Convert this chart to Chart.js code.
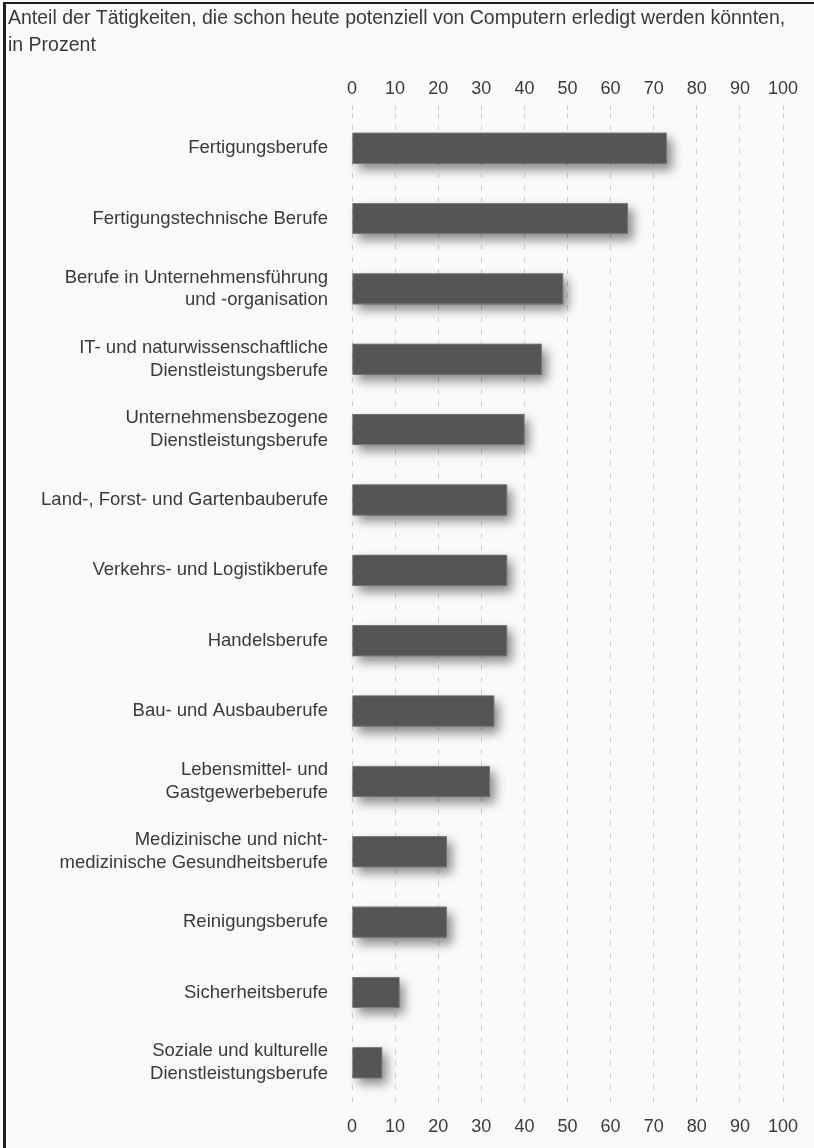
<!DOCTYPE html>
<html>
<head>
<meta charset="utf-8">
<script src="https://cdn.jsdelivr.net/npm/chart.js@4"></script>
<style>
  html, body { margin: 0; padding: 0; background: #fafafa; }
  canvas { display: block; }
</style>
</head>
<body>
<canvas id="chart" width="814" height="1148"></canvas>
<script>
// Anteil der Tätigkeiten mit Automatisierungspotenzial, nach Berufsgruppe
const titleLines = [
  'Anteil der Tätigkeiten, die schon heute potenziell von Computern erledigt werden könnten,',
  'in Prozent'
];
const categories = [
  'Fertigungsberufe',
  'Fertigungstechnische Berufe',
  ['Berufe in Unternehmensführung', 'und -organisation'],
  ['IT- und naturwissenschaftliche', 'Dienstleistungsberufe'],
  ['Unternehmensbezogene', 'Dienstleistungsberufe'],
  'Land-, Forst- und Gartenbauberufe',
  'Verkehrs- und Logistikberufe',
  'Handelsberufe',
  'Bau- und Ausbauberufe',
  ['Lebensmittel- und', 'Gastgewerbeberufe'],
  ['Medizinische und nicht-', 'medizinische Gesundheitsberufe'],
  'Reinigungsberufe',
  'Sicherheitsberufe',
  ['Soziale und kulturelle', 'Dienstleistungsberufe']
];
const shares = [73, 64, 49, 44, 40, 36, 36, 36, 33, 32, 22, 22, 11, 7];
const axisMin = 0;
const axisMax = 100;
const axisStep = 10;

const FONT = "'Liberation Sans', Arial, sans-serif";
const TEXT = '#3a3a3a';

// background, frame, title and bar shadow
const decor = {
  id: 'decor',
  beforeDraw(chart) {
    const ctx = chart.ctx;
    ctx.save();
    ctx.fillStyle = '#fafafa';
    ctx.fillRect(0, 0, chart.width, chart.height);
    ctx.restore();
  },
  beforeDatasetsDraw(chart) {
    // soft drop shadow under each bar, taken from the bar elements
    const ctx = chart.ctx;
    const bars = chart.getDatasetMeta(0).data;
    ctx.save();
    ctx.shadowColor = 'rgba(0,0,0,0.45)';
    ctx.shadowBlur = 10;
    ctx.shadowOffsetX = 5;
    ctx.shadowOffsetY = 6;
    ctx.fillStyle = '#555555';
    bars.forEach(b => {
      const p = b.getProps(['x', 'y', 'base', 'height'], true);
      ctx.fillRect(p.base, p.y - p.height / 2, p.x - p.base, p.height);
    });
    ctx.restore();
  },
  afterDraw(chart) {
    const ctx = chart.ctx;
    ctx.save();
    ctx.fillStyle = TEXT;
    ctx.font = '19.5px ' + FONT;
    ctx.textBaseline = 'middle';
    ctx.textAlign = 'left';
    titleLines.forEach((t, i) => ctx.fillText(t, 8, 19 + i * 27));
    // frame
    ctx.fillStyle = '#1e1e1e';
    ctx.fillRect(3, 2, chart.width - 3, 2);
    ctx.fillRect(3, 2, 3, chart.height - 2);
    ctx.restore();
  }
};

const ctx = document.getElementById('chart').getContext('2d');
const chart = new Chart(ctx, {
  type: 'bar',
  data: {
    labels: categories,
    datasets: [{
      data: shares,
      backgroundColor: '#555555',
      borderColor: '#7a7a7a',
      borderWidth: 1,
      borderSkipped: false,
      barPercentage: 0.88,
      categoryPercentage: 0.5,
      xAxisID: 'x'
    }]
  },
  options: {
    indexAxis: 'y',
    responsive: false,
    animation: false,
    layout: { padding: { top: 70, right: 31, bottom: 0, left: 0 } },
    plugins: {
      legend: { display: false },
      title: { display: false },
      tooltip: { enabled: false }
    },
    scales: {
      x: {
        position: 'top',
        min: axisMin,
        max: axisMax,
        afterFit(scale) { scale.height = 43; },
        ticks: {
          stepSize: axisStep,
          color: TEXT,
          font: { family: FONT, size: 18 },
          padding: 5
        },
        grid: {
          color: '#cfcfcf',
          lineWidth: 1,
          drawTicks: true,
          tickLength: 8,
          tickColor: '#cfcfcf',
          tickBorderDash: [5, 7]
        },
        border: { display: false, dash: [5, 7] }
      },
      x2: {
        position: 'bottom',
        min: axisMin,
        max: axisMax,
        afterFit(scale) { scale.height = 50; },
        ticks: {
          stepSize: axisStep,
          color: TEXT,
          font: { family: FONT, size: 18 },
          padding: 14
        },
        grid: { drawOnChartArea: false, drawTicks: true, tickLength: 4, tickColor: '#cfcfcf' },
        border: { display: false }
      },
      y: {
        afterFit(scale) { scale.width = 352; },
        ticks: {
          color: TEXT,
          font: { family: FONT, size: 18.5, lineHeight: 1.24 },
          padding: 16,
          autoSkip: false
        },
        grid: { display: false },
        border: { display: false }
      }
    }
  },
  plugins: [decor]
});
</script>
</body>
</html>
